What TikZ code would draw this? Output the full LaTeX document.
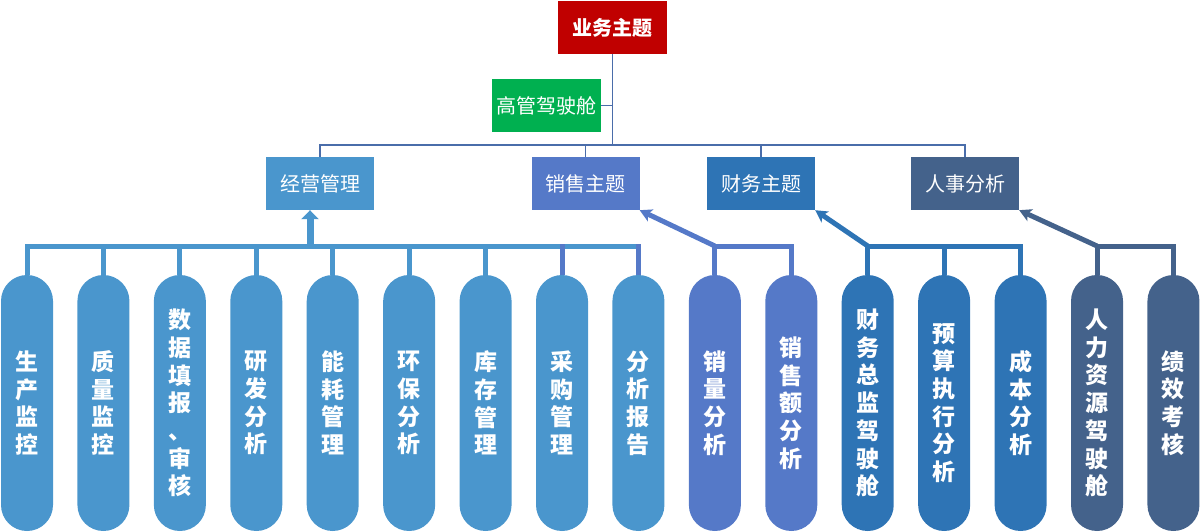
\documentclass[tikz,border=0pt]{standalone}
\usepackage{fontspec}
\usepackage{xcolor}
\usetikzlibrary{arrows.meta}
\newfontfamily\cjk{Noto Sans CJK SC}

\definecolor{topred}{HTML}{C00000}
\definecolor{topgreen}{HTML}{00B050}
\definecolor{cone}{HTML}{4A96CD}
\definecolor{ctwo}{HTML}{5579C8}
\definecolor{cthree}{HTML}{2E74B5}
\definecolor{cfour}{HTML}{44628B}
\definecolor{linec}{HTML}{4A6DAA}

\begin{document}
\begin{tikzpicture}[x=1pt,y=-1pt,
    box/.style={minimum width=108pt,minimum height=53pt,inner sep=0pt,text=white,
      font=\cjk\fontsize{20pt}{24pt}\selectfont},
    pill/.style={minimum width=52pt,minimum height=256pt,rounded corners=26pt,
      inner sep=0pt,text=white,align=center,
      font=\cjk\bfseries\fontsize{23pt}{27.7pt}\selectfont},
    thinline/.style={draw=linec,line width=1.6pt},
    bar/.style={line width=5pt}]
  \useasboundingbox (0,0) rectangle (1200,532);

  % Top of the tree
  \node[box,fill=topred,minimum width=109pt,font=\cjk\bfseries\fontsize{20pt}{24pt}\selectfont] (top) at (612.5,27.5) {业务主题};
  \node[box,fill=topgreen,minimum width=109pt] (gc) at (546.5,105.5) {高管驾驶舱};

  % Themes
  \node[box,fill=cone] (jy) at (320,183.5) {经营管理};
  \node[box,fill=ctwo] (xs) at (585.5,183.5) {销售主题};
  \node[box,fill=cthree] (cw) at (761,183.5) {财务主题};
  \node[box,fill=cfour] (rs) at (965,183.5) {人事分析};

  % Thin connectors
  \coordinate (h) at (0,145);
  \draw[thinline] (top.south) -- (top.south |- h);
  \draw[thinline] (gc.east) -- (gc.east -| top.south);
  \draw[thinline] (jy.north) -- (jy.north |- h) -- (rs.north |- h) -- (rs.north);
  \foreach \n in {xs,cw}
    \draw[thinline] (\n.north) -- (\n.north |- h);

  % Pills
  \foreach \i/\c/\t in {
      1/cone/{生\\产\\监\\控},
      2/cone/{质\\量\\监\\控},
      3/cone/{数\\据\\填\\报\\、\\审\\核},
      4/cone/{研\\发\\分\\析},
      5/cone/{能\\耗\\管\\理},
      6/cone/{环\\保\\分\\析},
      7/cone/{库\\存\\管\\理},
      8/cone/{采\\购\\管\\理},
      9/cone/{分\\析\\报\\告},
      10/ctwo/{销\\量\\分\\析},
      11/ctwo/{销\\售\\额\\分\\析},
      12/cthree/{财\\务\\总\\监\\驾\\驶\\舱},
      13/cthree/{预\\算\\执\\行\\分\\析},
      14/cthree/{成\\本\\分\\析},
      15/cfour/{人\\力\\资\\源\\驾\\驶\\舱},
      16/cfour/{绩\\效\\考\\核}}
    \node[pill,fill=\c] (p\i) at ({27+76.43*(\i-1)},403) {\t};

  % Bars
  \coordinate (b) at (0,246);
  \coordinate (ja) at (310,246);
  % group one
  \draw[bar,draw=cone] (p1.north) -- (p1.north |- b) -- (p9.north |- b);
  \foreach \i in {2,...,7}
    \draw[bar,draw=cone] (p\i.north) -- (p\i.north |- b);
  \foreach \i in {8,9}
    \draw[bar,draw=ctwo] (p\i.north) -- ([yshift=2.5pt]p\i.north |- b);
  \draw[draw=cone,line width=7pt,-{Triangle[length=9pt,width=17pt]}] (ja) -- (ja |- jy.south);
  % group two
  \draw[bar,draw=ctwo] (p10.north) -- (p10.north |- b) -- (p11.north |- b) -- (p11.north);
  \draw[bar,draw=ctwo,-{Stealth[length=12pt,width=13pt,inset=3pt]}] (p10.north |- b) -- (xs.south east);
  % group three
  \draw[bar,draw=cthree] (p12.north) -- (p12.north |- b) -- (p14.north |- b) -- (p14.north);
  \draw[bar,draw=cthree] (p13.north) -- (p13.north |- b);
  \draw[bar,draw=cthree,-{Stealth[length=12pt,width=13pt,inset=3pt]}] (p12.north |- b) -- (cw.south east);
  % group four
  \draw[bar,draw=cfour] (p15.north) -- (p15.north |- b) -- (p16.north |- b) -- (p16.north);
  \draw[bar,draw=cfour,-{Stealth[length=12pt,width=13pt,inset=3pt]}] (p15.north |- b) -- (rs.south east);
\end{tikzpicture}
\end{document}
